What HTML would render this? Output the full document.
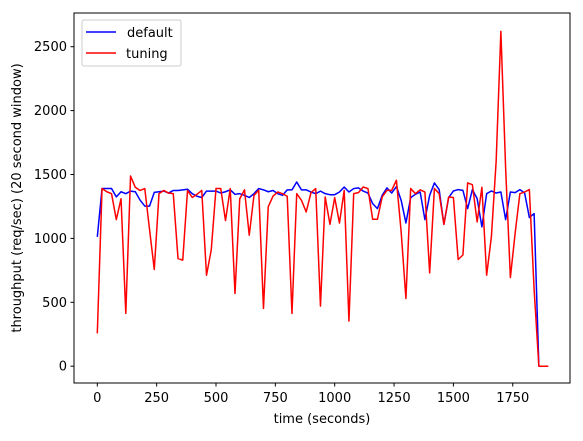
<!DOCTYPE html>
<html><head><meta charset="utf-8"><style>
body{margin:0;background:#fff;font-family:"Liberation Sans","DejaVu Sans",sans-serif;}
svg text{font-family:"DejaVu Sans","Liberation Sans",sans-serif;}
</style></head><body>
<svg id="chart" width="583" height="436" xmlns="http://www.w3.org/2000/svg">
<rect width="583" height="436" fill="#fff"/>
<g id="plot"></g>
<rect x="74" y="13" width="496" height="370" fill="none" stroke="#000" stroke-width="1"/>
<g id="xticks"></g><g id="yticks"></g>
<text x="322" y="423" font-size="13" text-anchor="middle">time (seconds)</text>
<text transform="translate(21,198) rotate(-90)" font-size="13" text-anchor="middle">throughput (req/sec) (20 second window)</text>
<g>
<rect x="82" y="20" width="99" height="46" rx="2" fill="#fff" stroke="#ccc" stroke-width="1"/>
<line x1="86" y1="32" x2="116" y2="32" stroke="#0000ff" stroke-width="1.5"/>
<text x="127" y="37" font-size="13">default</text>
<line x1="86" y1="53" x2="116" y2="53" stroke="#ff0000" stroke-width="1.5"/>
<text x="126" y="58" font-size="13">tuning</text>
</g>
</svg>
<script>
const times = Array.from({length:96},(_,i)=>i*20);
const defaultVals = [1012,1390,1390,1390,1325,1365,1350,1370,1365,1300,1253,1253,1360,1365,1370,1355,1375,1375,1380,1385,1350,1330,1320,1370,1370,1370,1355,1365,1380,1345,1350,1337,1320,1350,1390,1380,1365,1375,1350,1337,1380,1380,1441,1380,1380,1363,1350,1370,1350,1342,1342,1363,1402,1363,1390,1395,1370,1355,1272,1233,1337,1395,1355,1406,1298,1121,1319,1345,1363,1147,1337,1434,1382,1110,1319,1371,1382,1376,1233,1382,1311,1090,1350,1371,1355,1363,1147,1363,1358,1382,1355,1163,1194,0];
const tuningVals = [257,1390,1365,1350,1147,1310,413,1488,1400,1375,1390,1070,757,1350,1375,1355,1350,842,830,1375,1320,1345,1375,712,910,1390,1390,1140,1390,569,1310,1380,1025,1337,1376,452,1247,1330,1363,1350,1330,413,1350,1298,1207,1358,1390,470,1324,1110,1319,1120,1376,353,1350,1358,1402,1390,1150,1150,1324,1376,1376,1455,1050,530,1390,1350,1380,1363,730,1390,1350,1110,1324,1320,835,870,1434,1420,1129,1400,712,1012,1600,2620,1550,694,1040,1350,1363,1382,600,0,0,0];
const xTicks = [0,250,500,750,1000,1250,1500,1750];
const yTicks = [0,500,1000,1500,2000,2500];
const NS="http://www.w3.org/2000/svg";
function xs(t){return 97.3+t*0.2374;}
function ys(v){return 366.2-v*0.1278;}
const plot=document.getElementById('plot');
function series(vals,color,name){
  const p=document.createElementNS(NS,'polyline');
  p.setAttribute('points',vals.map((v,i)=>xs(times[i]).toFixed(2)+','+ys(v).toFixed(2)).join(' '));
  p.setAttribute('fill','none');p.setAttribute('stroke',color);p.setAttribute('stroke-width','1.5');
  p.setAttribute('stroke-linejoin','round');
  
  
  plot.appendChild(p);
}
series(defaultVals,'#0000ff','default-line');
series(tuningVals,'#ff0000','tuning-line');
const xg=document.getElementById('xticks');
xTicks.forEach(t=>{
  const x=xs(t);
  const l=document.createElementNS(NS,'line');
  l.setAttribute('x1',x);l.setAttribute('x2',x);l.setAttribute('y1',383);l.setAttribute('y2',386.5);l.setAttribute('stroke','#000');
  
  
  xg.appendChild(l);
  const tx=document.createElementNS(NS,'text');
  tx.setAttribute('x',x);tx.setAttribute('y',402);tx.setAttribute('font-size','13');tx.setAttribute('text-anchor','middle');
  tx.textContent=t;
  
  
  xg.appendChild(tx);
});
const yg=document.getElementById('yticks');
yTicks.forEach(v=>{
  const y=ys(v);
  const l=document.createElementNS(NS,'line');
  l.setAttribute('x1',70.5);l.setAttribute('x2',74);l.setAttribute('y1',y);l.setAttribute('y2',y);l.setAttribute('stroke','#000');
  
  
  yg.appendChild(l);
  const tx=document.createElementNS(NS,'text');
  tx.setAttribute('x',67);tx.setAttribute('y',y+4.5);tx.setAttribute('font-size','13');tx.setAttribute('text-anchor','end');
  tx.textContent=v;
  
  
  yg.appendChild(tx);
});
</script>
</body></html>
